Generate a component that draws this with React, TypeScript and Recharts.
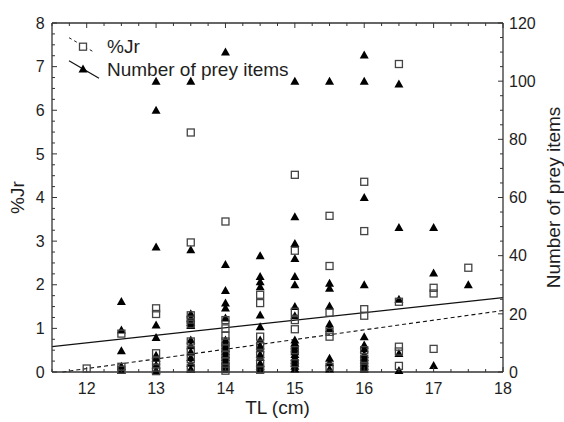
import React from 'react';
import { ComposedChart, Scatter, XAxis, YAxis, ReferenceLine } from 'recharts';

// ---- Data ----
const jrX = [
  12,
  12.5, 12.5, 12.5,
  13, 13, 13, 13, 13, 13,
  13.5, 13.5, 13.5, 13.5, 13.5, 13.5, 13.5, 13.5, 13.5,
  14, 14, 14, 14, 14, 14, 14, 14, 14, 14,
  14.5, 14.5, 14.5, 14.5, 14.5, 14.5, 14.5,
  15, 15, 15, 15, 15, 15, 15,
  15.5, 15.5, 15.5, 15.5, 15.5, 15.5,
  16, 16, 16, 16, 16, 16, 16,
  16.5, 16.5, 16.5, 16.5, 16.5,
  17, 17, 17,
  17.5,
];
const jrValues = [
  0.08,
  0.88, 0.12, 0.05,
  1.46, 1.33, 0.43, 0.25, 0.1, 0.02,
  5.49, 2.97, 1.3, 1.2, 1.1, 0.7, 0.5, 0.3, 0.1,
  3.45, 1.19, 1.0, 0.83, 0.7, 0.55, 0.4, 0.25, 0.1, 0.03,
  1.77, 1.58, 0.81, 0.6, 0.4, 0.2, 0.05,
  4.52, 2.78, 1.38, 1.19, 0.98, 0.5, 0.2,
  3.58, 2.43, 1.36, 0.92, 0.81, 0.12,
  4.36, 3.23, 1.44, 1.29, 0.5, 0.3, 0.1,
  7.06, 1.61, 0.58, 0.47, 0.14,
  1.93, 1.8, 0.53,
  2.39,
];

const preyX = [
  12.5, 12.5, 12.5, 12.5, 12.5,
  13, 13, 13, 13, 13, 13, 13, 13, 13,
  13.5, 13.5, 13.5, 13.5, 13.5, 13.5, 13.5, 13.5, 13.5, 13.5, 13.5, 13.5,
  14, 14, 14, 14, 14, 14, 14, 14, 14, 14, 14, 14, 14, 14, 14, 14, 14,
  14.5, 14.5, 14.5, 14.5, 14.5, 14.5, 14.5, 14.5, 14.5, 14.5, 14.5, 14.5, 14.5, 14.5,
  15, 15, 15, 15, 15, 15, 15, 15, 15, 15, 15, 15, 15, 15, 15, 15, 15, 15, 15,
  15.5, 15.5, 15.5, 15.5, 15.5, 15.5, 15.5, 15.5, 15.5,
  16, 16, 16, 16, 16, 16, 16, 16, 16, 16, 16, 16, 16,
  16.5, 16.5, 16.5, 16.5, 16.5,
  17, 17, 17,
  17.5,
];
const preyValues = [
  24.2, 14.4, 7.3, 2, 0.5,
  100, 90, 43, 16.2, 11.9, 5.8, 4.7, 2.4, 0.5,
  100, 42, 20, 18.5, 17, 16, 11, 9, 7, 5, 3, 1,
  110, 37, 28, 23.7, 22, 18.6, 11, 10, 9, 8, 7, 6, 5, 4, 3, 2, 1,
  40, 32.8, 31, 29.3, 19.6, 15.6, 11, 9, 8, 6, 5, 3, 2, 1,
  100, 53.4, 44.2, 39, 32.8, 30, 22.5, 19.3, 11, 10, 9, 8, 7, 6, 5, 4, 3, 2, 1,
  100, 30.5, 28.8, 22.7, 16.5, 15, 4.7, 3.2, 1,
  109, 100, 60, 30, 12.1, 9.3, 8, 6, 5, 4, 3, 2, 1,
  99, 49.7, 25, 6.4, 0.5,
  49.7, 34, 2.2,
  30,
];

// regression lines (end points)
const jrTrendX = [11.65, 18];
const jrTrendY = [0, 1.41];
const preyTrendX = [11.5, 18];
const preyTrendY = [8.7, 25.6];

// axis ticks
const xMajorTicks = [12, 13, 14, 15, 16, 17, 18];
const jrMajorTicks = [0, 1, 2, 3, 4, 5, 6, 7, 8];
const preyMajorTicks = [0, 20, 40, 60, 80, 100, 120];
const xDomain: [number, number] = [11.5, 18];
const jrDomain: [number, number] = [0, 8];
const preyDomain: [number, number] = [0, 120];

// labels
const xTitle = 'TL (cm)';
const jrTitle = '%Jr';
const preyTitle = 'Number of prey items';

// ---- helpers ----
const withMinor = (lo: number, hi: number, step: number) => {
  const out: number[] = [];
  for (let v = lo; v <= hi + 1e-9; v += step) out.push(Math.round(v * 1000) / 1000);
  return out;
};
const xTicks = withMinor(xDomain[0], xDomain[1], 0.25);
const jrTicks = withMinor(jrDomain[0], jrDomain[1], 0.25);
const preyTicks = withMinor(preyDomain[0], preyDomain[1], 5);

const jrData = jrX.map((x, i) => ({ x, y: jrValues[i] }));
const preyData = preyX.map((x, i) => ({ x, y: preyValues[i] }));

const FONT = '"Liberation Sans", Arial, sans-serif';
const TEXT = '#1e1e1e';
const AXIS = '#333';
const MAJ = 5;
const MIN = 3;
const CHART_W = 564;
const CHART_H = 422;
const MARGIN_TOP = 23;
const X_AXIS_H = 50;
const PLOT_H = CHART_H - MARGIN_TOP - X_AXIS_H;

const BottomTick = (p: any) => {
  const { x, y, payload } = p;
  const major = xMajorTicks.includes(payload.value);
  const len = major ? MAJ : MIN;
  const top = y - PLOT_H;
  return (
    <g>
      <line x1={x} y1={y} x2={x} y2={y - len} stroke={AXIS} strokeWidth={1} />
      <line x1={x} y1={top} x2={x} y2={top + len} stroke={AXIS} strokeWidth={1} />
      {major && (
        <text x={x} y={y + 22.3} textAnchor="middle" fontSize={16} fontFamily={FONT} fill={TEXT}>
          {payload.value}
        </text>
      )}
    </g>
  );
};
const LeftTick = (p: any) => {
  const { x, y, payload } = p;
  const major = jrMajorTicks.includes(payload.value);
  return (
    <g>
      <line x1={x} y1={y} x2={x + (major ? MAJ : MIN)} y2={y} stroke={AXIS} strokeWidth={1} />
      {major && (
        <text x={x - 7.3} y={y + 5.7} textAnchor="end" fontSize={16} fontFamily={FONT} fill={TEXT}>
          {payload.value}
        </text>
      )}
    </g>
  );
};
const RightTick = (p: any) => {
  const { x, y, payload } = p;
  const major = preyMajorTicks.includes(payload.value);
  return (
    <g>
      <line x1={x} y1={y} x2={x - (major ? MAJ : MIN)} y2={y} stroke={AXIS} strokeWidth={1} />
      {major && (
        <text x={x + 6} y={y + 5.7} textAnchor="start" fontSize={16} fontFamily={FONT} fill={TEXT}>
          {payload.value}
        </text>
      )}
    </g>
  );
};

const SquareShape = (p: any) => {
  const { cx, cy } = p;
  if (cx == null || cy == null) return <g />;
  return <rect x={cx - 3.5} y={cy - 3.5} width={7} height={7} fill="none" stroke="#444" strokeWidth={1.3} />;
};
const TriangleShape = (p: any) => {
  const { cx, cy } = p;
  if (cx == null || cy == null) return <g />;
  return <polygon points={`${cx},${cy - 4.5} ${cx + 4.5},${cy + 3.5} ${cx - 4.5},${cy + 3.5}`} fill="#000" />;
};

export default function App() {
  return (
    <div style={{ position: 'absolute', left: 0, top: 0, width: CHART_W, height: CHART_H, background: '#fff' }}>
      <ComposedChart width={CHART_W} height={CHART_H} margin={{ top: MARGIN_TOP, right: 0, bottom: 0, left: 0 }}>
        <XAxis
          xAxisId="bottom"
          type="number"
          dataKey="x"
          domain={xDomain}
          ticks={xTicks}
          interval={0}
          height={X_AXIS_H}
          tickSize={0}
          tickMargin={0}
          tickLine={false}
          tick={<BottomTick />}
          axisLine={{ stroke: AXIS, strokeWidth: 1.3 }}
          label={{ value: xTitle, position: 'insideBottom', offset: 8, fontSize: 19, fontFamily: FONT, fill: TEXT }}
        />
        <YAxis
          yAxisId="left"
          type="number"
          dataKey="y"
          domain={jrDomain}
          ticks={jrTicks}
          interval={0}
          width={52}
          tickSize={0}
          tickMargin={0}
          tickLine={false}
          tick={<LeftTick />}
          axisLine={{ stroke: AXIS, strokeWidth: 1.3 }}
          label={{ value: jrTitle, angle: -90, position: 'insideLeft', offset: 17, fontSize: 19, fontFamily: FONT, fill: TEXT, style: { textAnchor: 'middle' } }}
        />
        <YAxis
          yAxisId="right"
          orientation="right"
          type="number"
          dataKey="y"
          domain={preyDomain}
          ticks={preyTicks}
          interval={0}
          width={61}
          tickSize={0}
          tickMargin={0}
          tickLine={false}
          tick={<RightTick />}
          axisLine={{ stroke: AXIS, strokeWidth: 1.3 }}
          label={{ value: preyTitle, angle: -90, position: 'insideRight', offset: 11, fontSize: 19, fontFamily: FONT, fill: TEXT, style: { textAnchor: 'middle' } }}
        />
        <ReferenceLine xAxisId="bottom" yAxisId="left" y={jrDomain[1]} stroke={AXIS} strokeWidth={1.6} />
        <ReferenceLine
          xAxisId="bottom"
          yAxisId="right"
          segment={[{ x: preyTrendX[0], y: preyTrendY[0] }, { x: preyTrendX[1], y: preyTrendY[1] }]}
          stroke="#111"
          strokeWidth={1.2}
        />
        <ReferenceLine
          xAxisId="bottom"
          yAxisId="left"
          segment={[{ x: jrTrendX[0], y: jrTrendY[0] }, { x: jrTrendX[1], y: jrTrendY[1] }]}
          stroke="#111"
          strokeWidth={1.1}
          strokeDasharray="4 3"
        />
        <Scatter
          name="Number of prey items"
          data={preyData}
          xAxisId="bottom"
          yAxisId="right"
          shape={<TriangleShape />}
          isAnimationActive={false}
        />
        <Scatter
          name="%Jr"
          data={jrData}
          xAxisId="bottom"
          yAxisId="left"
          shape={<SquareShape />}
          isAnimationActive={false}
        />
      </ComposedChart>
      <svg width={CHART_W} height={CHART_H} style={{ position: 'absolute', left: 0, top: 0, pointerEvents: 'none' }}>
        <line x1={69} y1={37.7} x2={95} y2={52.7} stroke="#222" strokeWidth={1} strokeDasharray="3 3" />
        <rect x={79.5} y={43.2} width={7} height={7} fill="#fff" stroke="#444" strokeWidth={1.3} />
        <text x={107} y={53.3} fontSize={19} fontFamily={FONT} fill={TEXT}>%Jr</text>
        <line x1={69} y1={60.7} x2={99} y2={78.3} stroke="#111" strokeWidth={1.2} />
        <polygon points="83,64.5 87.5,72.5 78.5,72.5" fill="#000" />
        <text x={107} y={75.5} fontSize={19} fontFamily={FONT} fill={TEXT}>Number of prey items</text>
      </svg>
    </div>
  );
}
